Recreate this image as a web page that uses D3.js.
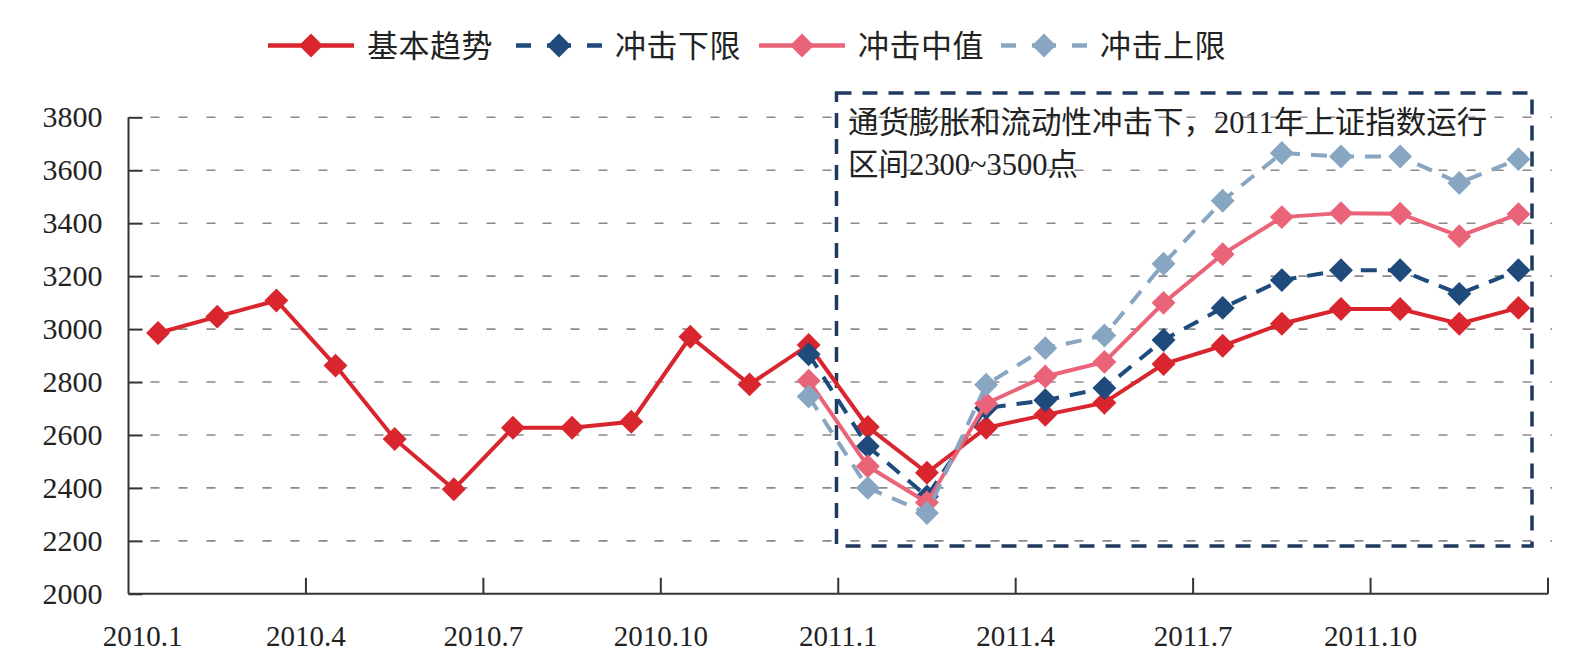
<!DOCTYPE html>
<html><head><meta charset="utf-8">
<script src="https://cdn.jsdelivr.net/npm/d3@7"></script>
<style>body{margin:0;background:#fff;}svg{display:block;}</style>
</head><body>
<script>
const months = ["2010.1","2010.2","2010.3","2010.4","2010.5","2010.6","2010.7","2010.8","2010.9","2010.10","2010.11","2010.12",
"2011.1","2011.2","2011.3","2011.4","2011.5","2011.6","2011.7","2011.8","2011.9","2011.10","2011.11","2011.12"];
const tickLabels = ["2010.1","2010.4","2010.7","2010.10","2011.1","2011.4","2011.7","2011.10"];
const yTicks = [2000,2200,2400,2600,2800,3000,3200,3400,3600,3800];
const seriesNames = ["基本趋势","冲击下限","冲击中值","冲击上限"];
const baseTrend = [2985,3047,3108,2862,2585,2395,2627,2627,2650,2971,2791,2940,2630,2457,2627,2676,2722,2868,2937,3020,3076,3076,3020,3080];
const lowerBound = [null,null,null,null,null,null,null,null,null,null,null,2905,2557,2368,2702,2731,2777,2959,3080,3185,3222,3222,3133,3222];
const midValue = [null,null,null,null,null,null,null,null,null,null,null,2805,2482,2345,2719,2821,2876,3099,3283,3423,3438,3436,3351,3434];
const upperBound = [null,null,null,null,null,null,null,null,null,null,null,2745,2400,2305,2790,2928,2976,3247,3485,3665,3652,3652,3552,3642];
const annotationLines = ["通货膨胀和流动性冲击下，2011年上证指数运行","区间2300~3500点"];

const W=1586,H=671;
const svg=d3.select("body").append("svg").attr("width",W).attr("height",H);
const L=128.5,R=1548,T=117.3,B=593.8;
const x=d3.scaleBand().domain(months).range([L,R]);
const y=d3.scaleLinear().domain([2000,3800]).range([B,T]);
const cx=m=>x(m)+x.bandwidth()/2;

// gridlines
svg.append("g").selectAll("line").data(yTicks.filter(v=>v>2000)).join("line")
 .attr("x1",L+22).attr("x2",R+4).attr("y1",d=>y(d)).attr("y2",d=>y(d))
 .attr("stroke","#8a8a8a").attr("stroke-width",1.6).attr("stroke-dasharray","9,19");

// y axis
const yAxis=d3.axisRight(y).tickValues(yTicks).tickSize(14).tickFormat("");
const ya=svg.append("g").attr("transform",`translate(${L},0)`).call(yAxis);
ya.select(".domain").remove();
ya.selectAll("line").attr("stroke","#333").attr("stroke-width",2);
svg.append("line").attr("x1",L).attr("x2",L).attr("y1",T).attr("y2",B).attr("stroke","#333").attr("stroke-width",2);
svg.append("g").selectAll("text").data(yTicks).join("text")
 .attr("x",L-26).attr("y",d=>y(d)+10).attr("text-anchor","end")
 .attr("font-family","Liberation Serif").attr("font-size",30).attr("fill","#222").text(d=>d);

// x axis
svg.append("line").attr("x1",L).attr("x2",R).attr("y1",B).attr("y2",B).attr("stroke","#333").attr("stroke-width",2);
const tickPos=tickLabels.map(t=>x(t)).filter(v=>v>L+1).concat([R]);
svg.append("g").selectAll("line").data(tickPos).join("line")
 .attr("x1",d=>d).attr("x2",d=>d).attr("y1",B).attr("y2",B-16).attr("stroke","#333").attr("stroke-width",2);
svg.append("g").selectAll("text").data(tickLabels).join("text")
 .attr("x",(d,i)=>x(d)+(i===0?14:0)).attr("y",646).attr("text-anchor","middle")
 .attr("font-family","Liberation Serif").attr("font-size",29).attr("fill","#222").text(d=>d);

// annotation box
svg.append("rect").attr("x",836.5).attr("y",93).attr("width",695.5).attr("height",453)
 .attr("fill","none").attr("stroke","#1f3a5f").attr("stroke-width",3.5).attr("stroke-dasharray","15,11");
svg.append("g").selectAll("text").data(annotationLines).join("text")
 .attr("x",848).attr("y",(d,i)=>133+i*42)
 .attr("font-family","Liberation Serif, Noto Sans CJK SC").attr("font-size",30.5).attr("fill","#222").text(d=>d);

// series
const series=[
 {name:seriesNames[0],vals:baseTrend,color:"#d9252d",dash:null},
 {name:seriesNames[1],vals:lowerBound,color:"#1f4a7c",dash:"16,11"},
 {name:seriesNames[2],vals:midValue,color:"#ea6479",dash:null},
 {name:seriesNames[3],vals:upperBound,color:"#88a6c1",dash:"16,11"}
];
const diamond=d3.symbol().type(d3.symbolDiamond2).size(2*13.5*13.5);
const line=d3.line().defined(d=>d.v!=null).x(d=>cx(d.m)).y(d=>y(d.v));
series.forEach(s=>{
 const pts=months.map((m,i)=>({m,v:s.vals[i]}));
 const g=svg.append("g");
 g.append("path").datum(pts).attr("d",line).attr("fill","none").attr("stroke",s.color)
  .attr("stroke-width",4).attr("stroke-dasharray",s.dash);
 g.selectAll("path.mk").data(pts.filter(d=>d.v!=null)).join("path").attr("class","mk")
  .attr("d",diamond).attr("transform",d=>`translate(${cx(d.m)},${y(d.v)})`).attr("fill",s.color);
});

// legend
const legX=[268,516,759,1001];
const lg=svg.append("g");
series.forEach((s,i)=>{
 const x0=legX[i], yy=45.5;
 lg.append("line").attr("x1",x0).attr("x2",x0+86).attr("y1",yy).attr("y2",yy).attr("stroke",s.color)
  .attr("stroke-width",4.5).attr("stroke-dasharray",s.dash?"15,16,24,16,15":null);
 lg.append("path").attr("d",diamond).attr("transform",`translate(${x0+43},${yy})`).attr("fill",s.color);
 lg.append("text").attr("x",x0+99).attr("y",yy+11).attr("font-family","Noto Sans CJK SC")
  .attr("font-size",31).attr("letter-spacing",0.5).attr("fill","#222").text(s.name);
});
</script>
</body></html>
